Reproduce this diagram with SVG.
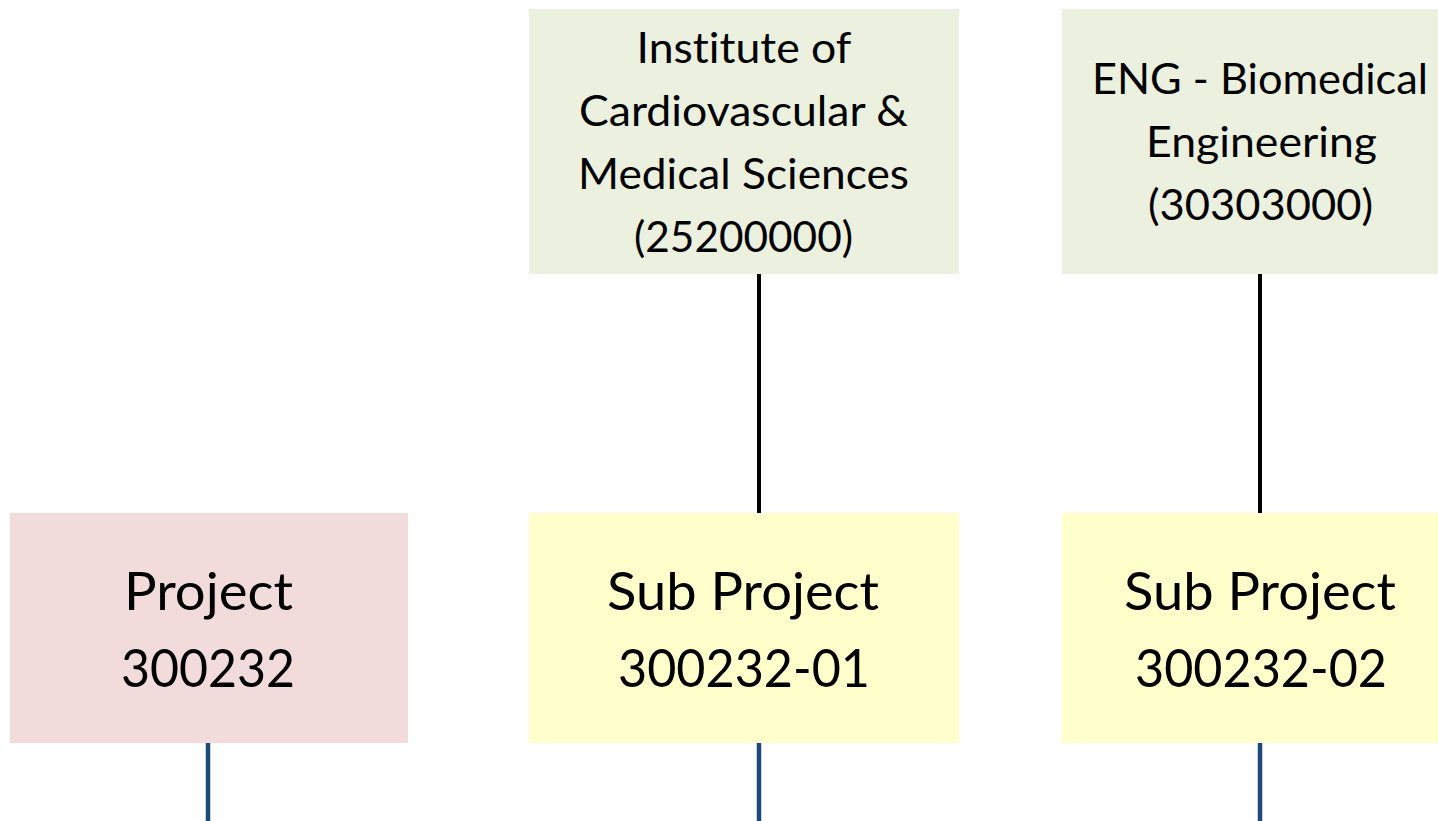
<svg xmlns="http://www.w3.org/2000/svg" width="1438" height="821" viewBox="0 0 1438 821">
<style>
.t{font-family:Lato,"Open Sans","Liberation Sans",sans-serif;fill:#000;text-anchor:middle;font-variant-ligatures:none;font-feature-settings:"liga" 0}
.s{font-size:42px}
.b{font-size:52px}
.org{fill:#EBF1DE}
.sub{fill:#FFFFCC}
.prj{fill:#F2DCDB}
.k{stroke:#000;stroke-width:4;fill:none}
.bl{stroke:#1F497D;stroke-width:4.5;fill:none}
</style>
<rect width="1438" height="821" fill="#fff"/>
<g id="connectors">
<line class="k" x1="759" y1="274" x2="759" y2="513"/>
<line class="k" x1="1260" y1="274" x2="1260" y2="513"/>
<line class="bl" x1="208" y1="743" x2="208" y2="821"/>
<line class="bl" x1="759" y1="743" x2="759" y2="821"/>
<line class="bl" x1="1260" y1="743" x2="1260" y2="821"/>
</g>
<g id="org-icms">
<rect class="org" x="529" y="9" width="430" height="265"/>
<text class="t s" x="744" y="63" textLength="215" lengthAdjust="spacingAndGlyphs">Institute of</text>
<text class="t s" x="743.5" y="126" textLength="329" lengthAdjust="spacingAndGlyphs">Cardiovascular &amp;</text>
<text class="t s" x="743.5" y="189" textLength="331" lengthAdjust="spacingAndGlyphs">Medical Sciences</text>
<text class="t s" x="743.5" y="252" textLength="219" lengthAdjust="spacingAndGlyphs">(25200000)</text>
</g>
<g id="org-eng">
<rect class="org" x="1062" y="9" width="396" height="265"/>
<text class="t s" x="1260" y="94" textLength="336" lengthAdjust="spacingAndGlyphs">ENG - Biomedical</text>
<text class="t s" x="1261.5" y="157" textLength="231" lengthAdjust="spacingAndGlyphs">Engineering</text>
<text class="t s" x="1260.5" y="220" textLength="225" lengthAdjust="spacingAndGlyphs">(30303000)</text>
</g>
<g id="project">
<rect class="prj" x="10" y="513" width="398" height="230"/>
<text class="t b" x="208.5" y="610" textLength="169" lengthAdjust="spacingAndGlyphs">Project</text>
<text class="t b" x="208" y="687" textLength="174" lengthAdjust="spacingAndGlyphs">300232</text>
</g>
<g id="subproject-01">
<rect class="sub" x="529" y="513" width="430" height="230"/>
<text class="t b" x="743" y="610" textLength="272" lengthAdjust="spacingAndGlyphs">Sub Project</text>
<text class="t b" x="744" y="687" textLength="252" lengthAdjust="spacingAndGlyphs">300232-01</text>
</g>
<g id="subproject-02">
<rect class="sub" x="1062" y="513" width="396" height="230"/>
<text class="t b" x="1260" y="610" textLength="272" lengthAdjust="spacingAndGlyphs">Sub Project</text>
<text class="t b" x="1261" y="687" textLength="252" lengthAdjust="spacingAndGlyphs">300232-02</text>
</g>
</svg>
